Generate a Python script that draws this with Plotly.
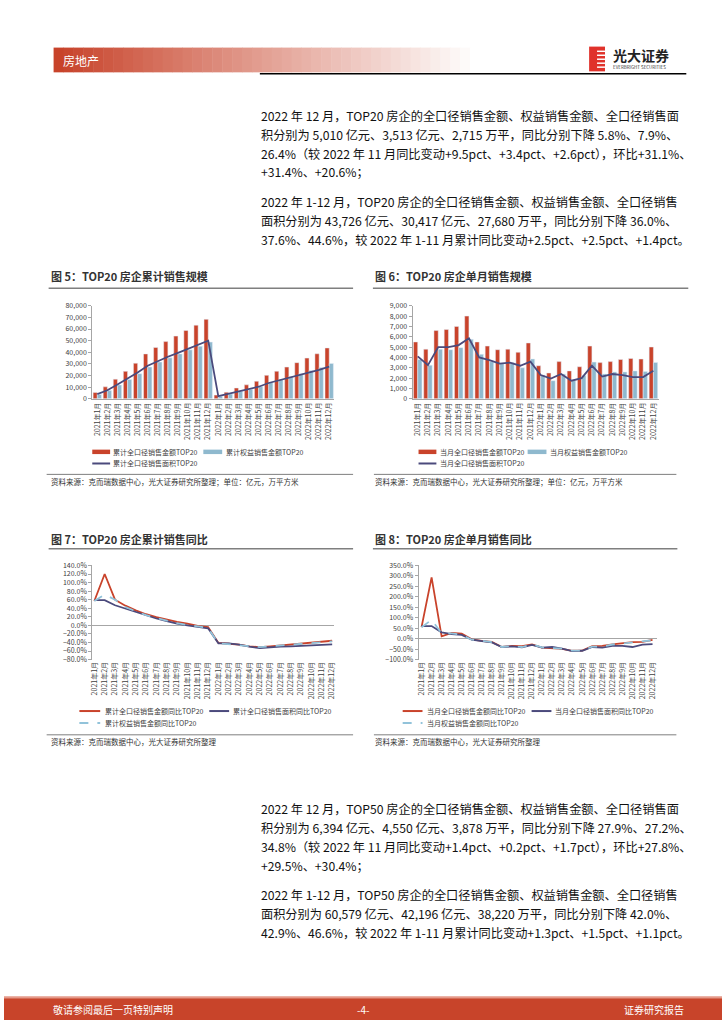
import plotly.graph_objects as go

# ---------------- data ----------------
months = ["2021年1月", "2021年2月", "2021年3月", "2021年4月", "2021年5月", "2021年6月",
          "2021年7月", "2021年8月", "2021年9月", "2021年10月", "2021年11月", "2021年12月",
          "2022年1月", "2022年2月", "2022年3月", "2022年4月", "2022年5月", "2022年6月",
          "2022年7月", "2022年8月", "2022年9月", "2022年10月", "2022年11月", "2022年12月"]

# Fig 5: cumulative (亿元 / 万平方米)
cum_amount = [5500, 10300, 16900, 23600, 30600, 38600, 44100, 49200, 53900, 58700, 63300, 68300,
              3200, 5700, 9300, 12000, 15100, 20200, 23700, 27300, 31100, 35000, 38716, 43726]
cum_equity = [3800, 7100, 11900, 16600, 21600, 27300, 31600, 35200, 38600, 42100, 45100, 48750,
              2300, 4050, 6450, 8250, 10500, 14050, 16450, 19050, 21650, 24350, 26904, 30417]
cum_area = [4100, 7350, 12350, 17350, 22550, 28400, 32400, 36150, 39550, 43050, 46250, 49960,
            2300, 4250, 6650, 8400, 10400, 13600, 15750, 18150, 20450, 22550, 24965, 27680]

# Fig 6: monthly
mon_amount = [5500, 4800, 6600, 6700, 7000, 8000, 5500, 5100, 4750, 4800, 4500, 5400,
              3200, 2500, 3600, 2700, 3100, 5100, 3500, 3600, 3800, 3900, 3850, 5010]
mon_equity = [3800, 3250, 4800, 4750, 4950, 5750, 4300, 3600, 3400, 3500, 3000, 3850,
              2300, 1750, 2400, 1800, 2250, 3550, 2400, 2600, 2600, 2700, 2650, 3513]
mon_area = [4100, 3250, 5000, 5000, 5200, 5850, 4000, 3750, 3400, 3500, 3200, 3600,
            2300, 1950, 2400, 1750, 2000, 3200, 2150, 2400, 2300, 2100, 2100, 2715]

# Fig 7: cumulative YoY (%)
cum_amount_yoy = [57, 120, 60, 46, 35, 26, 19, 13, 8, 4, -1, -4,
                  -41, -43, -45, -49, -51, -49, -47, -45, -43, -41, -38.5, -36.0]
cum_equity_yoy = [57, 72, 60, 43, 33, 24, 17, 11, 5, 1, -3, -6,
                  -42, -44, -46, -49, -51, -49, -47, -45, -43, -42, -40.1, -37.6]
cum_area_yoy = [59, 59, 47, 39, 32, 23, 16, 10, 4, 0, -4, -7,
                -42, -42, -45, -50, -53, -51, -50, -49, -48, -47, -46.0, -44.6]

# Fig 8: monthly YoY (%)
mon_amount_yoy = [55, 293, 11, 28, 24, -3, -11, -16, -40, -35, -36, -28,
                  -43, -47, -49, -58, -57, -36, -35, -27, -21, -17, -15.3, -5.8]
mon_equity_yoy = [55, 90, 25, 25, 18, -5, -10, -17, -40, -36, -40, -28,
                  -42, -45, -48, -57, -57, -38, -38, -28, -23, -17, -11.3, -7.9]
mon_area_yoy = [60, 60, 30, 22, 18, -5, -12, -18, -40, -37, -42, -30,
                -43, -40, -48, -60, -58, -40, -43, -35, -35, -40, -29.0, -26.4]

para_top = [
    ["2022 年 12 月，TOP20 房企的全口径销售金额、权益销售金额、全口径销售面",
     "积分别为 5,010 亿元、3,513 亿元、2,715 万平，同比分别下降 5.8%、7.9%、",
     "26.4%（较 2022 年 11 月同比变动+9.5pct、+3.4pct、+2.6pct），环比+31.1%、",
     "+31.4%、+20.6%；"],
    ["2022 年 1-12 月，TOP20 房企的全口径销售金额、权益销售金额、全口径销售",
     "面积分别为 43,726 亿元、30,417 亿元、27,680 万平，同比分别下降 36.0%、",
     "37.6%、44.6%，较 2022 年 1-11 月累计同比变动+2.5pct、+2.5pct、+1.4pct。"],
]
para_bottom = [
    ["2022 年 12 月，TOP50 房企的全口径销售金额、权益销售金额、全口径销售面",
     "积分别为 6,394 亿元、4,550 亿元、3,878 万平，同比分别下降 27.9%、27.2%、",
     "34.8%（较 2022 年 11 月同比变动+1.4pct、+0.2pct、+1.7pct），环比+27.8%、",
     "+29.5%、+30.4%；"],
    ["2022 年 1-12 月，TOP50 房企的全口径销售金额、权益销售金额、全口径销售",
     "面积分别为 60,579 亿元、42,196 亿元、38,220 万平，同比分别下降 42.0%、",
     "42.9%、46.6%，较 2022 年 1-11 月累计同比变动+1.3pct、+1.5pct、+1.1pct。"],
]

# ---------------- style ----------------
W, H = 724, 1024
RED = "#C9432B"
BLUE = "#8FB9CE"
DARK = "#4B4A7C"
LBLUE = "#92C3DA"
GRAY = "#8C8C8C"
TXT = "#404040"
FONT = "Noto Sans CJK SC"


def X(px):
    return px / W


def Y(py):
    return 1 - py / H


shapes = []
annotations = []


def text(x, y, s, size=8, color=TXT, anchor="left", bold=False, yanchor="middle"):
    if bold:
        s = "<b>" + s + "</b>"
    annotations.append(dict(x=X(x), y=Y(y), xref="paper", yref="paper", text=s, showarrow=False,
                            xanchor=anchor, yanchor=yanchor,
                            font=dict(size=size, color=color, family=FONT)))


def hline(x0, x1, y, color=GRAY, width=1, dash="solid"):
    shapes.append(dict(type="line", xref="paper", yref="paper", x0=X(x0), x1=X(x1), y0=Y(y), y1=Y(y),
                       line=dict(color=color, width=width, dash=dash)))


def rect(x0, x1, y0, y1, color):
    shapes.append(dict(type="rect", xref="paper", yref="paper", x0=X(x0), x1=X(x1), y0=Y(y1), y1=Y(y0),
                       fillcolor=color, line=dict(width=0), layer="above"))


fig = go.Figure()

# Fig 5 bars + line
fig.add_trace(go.Bar(x=months, y=cum_amount, marker_color=RED, xaxis="x", yaxis="y"))
fig.add_trace(go.Bar(x=months, y=cum_equity, marker_color=BLUE, xaxis="x", yaxis="y"))
fig.add_trace(go.Scatter(x=months, y=cum_area, mode="lines", line=dict(color=DARK, width=1.8),
                         xaxis="x", yaxis="y"))
# Fig 6
fig.add_trace(go.Bar(x=months, y=mon_amount, marker_color=RED, xaxis="x2", yaxis="y2"))
fig.add_trace(go.Bar(x=months, y=mon_equity, marker_color=BLUE, xaxis="x2", yaxis="y2"))
fig.add_trace(go.Scatter(x=months, y=mon_area, mode="lines", line=dict(color=DARK, width=1.8),
                         xaxis="x2", yaxis="y2"))
# Fig 7
fig.add_trace(go.Scatter(x=months, y=cum_amount_yoy, mode="lines", line=dict(color=RED, width=1.8),
                         xaxis="x3", yaxis="y3"))
fig.add_trace(go.Scatter(x=months, y=cum_area_yoy, mode="lines", line=dict(color=DARK, width=1.8),
                         xaxis="x3", yaxis="y3"))
fig.add_trace(go.Scatter(x=months, y=cum_equity_yoy, mode="lines",
                         line=dict(color=LBLUE, width=1.8, dash="dash"), xaxis="x3", yaxis="y3"))
# Fig 8
fig.add_trace(go.Scatter(x=months, y=mon_amount_yoy, mode="lines", line=dict(color=RED, width=1.8),
                         xaxis="x4", yaxis="y4"))
fig.add_trace(go.Scatter(x=months, y=mon_area_yoy, mode="lines", line=dict(color=DARK, width=1.8),
                         xaxis="x4", yaxis="y4"))
fig.add_trace(go.Scatter(x=months, y=mon_equity_yoy, mode="lines",
                         line=dict(color=LBLUE, width=1.8, dash="dash"), xaxis="x4", yaxis="y4"))

tickfont = dict(size=7, color=TXT, family=FONT)


def xax(x0, x1, rng, showline=True):
    return dict(domain=[X(x0), X(x1)], type="category", range=rng, tickangle=-90, tickfont=tickfont,
                showgrid=False, showline=showline, linecolor="#A6A6A6", linewidth=1,
                ticks="", zeroline=False, fixedrange=True)


def yax(y0, y1, rng, dtick, fmt=None, suffix=None, anchor="x", zeroline=False):
    d = dict(domain=[Y(y1), Y(y0)], range=rng, dtick=dtick, tick0=0, tickfont=tickfont, showgrid=False,
             showline=True, linecolor="#A6A6A6", linewidth=1, ticks="outside", ticklen=3,
             tickcolor="#A6A6A6", zeroline=zeroline, zerolinecolor="#A6A6A6", zerolinewidth=1,
             anchor=anchor, fixedrange=True)
    if fmt:
        d["tickformat"] = fmt
    if suffix:
        d["ticksuffix"] = suffix
    return d


fig.update_layout(
    width=W, height=H, margin=dict(l=0, r=0, t=0, b=0), autosize=False,
    paper_bgcolor="white", plot_bgcolor="white", showlegend=False,
    barmode="group", bargap=0.17, bargroupgap=0.0,
    font=dict(family=FONT),
    xaxis=xax(89, 333, [-0.5, 23.5]),
    yaxis=yax(302.7, 396.7, [0, 80000], 10000, fmt=",", anchor="x"),
    xaxis2=dict(xax(412, 660, [-0.5, 23.5]), anchor="y2"),
    yaxis2=yax(302.7, 396.7, [0, 9000], 1000, fmt=",", anchor="x2"),
    xaxis3=dict(xax(89, 333, [-0.2, 23.2], showline=False), anchor="y3"),
    yaxis3=yax(565, 660, [-80, 140], 20, fmt=".1f", suffix="%", anchor="x3", zeroline=True),
    xaxis4=dict(xax(418, 658, [-0.3, 23.4], showline=False), anchor="y4"),
    yaxis4=yax(565, 660, [-100, 350], 50, fmt=".1f", suffix="%", anchor="x4", zeroline=True),
)

# ---------------- header ----------------
n = 43
x_start, x_end = 50, 480
for i in range(n):
    t = i / (n - 1)
    r = int(200 + (255 - 200) * t)
    g = int(67 + (255 - 67) * t)
    b = int(42 + (255 - 42) * t)
    rect(x_start + (x_end - x_start) * i / n, x_start + (x_end - x_start) * (i + 1) / n + 0.5,
         42, 67, f"rgb({r},{g},{b})")
text(57, 55, "房地产", size=12, color="white")
hline(258, 688, 68.5, color="black", width=1.5)
# logo
rect(590, 606, 41, 66, "#E0322B")
for k, yy in enumerate([45, 49, 53, 57, 61]):
    rect(598, 606, yy, yy + 1.5, "white")
text(612, 49, "光大证券", size=14, color="#222222", bold=True)
text(612, 62, "EVERBRIGHT SECURITIES", size=4.5, color="#333333")

# ---------------- paragraphs ----------------
def paragraph(lines, y0):
    for j, s in enumerate(lines):
        text(257, y0 + 19 * j, s, size=12.2, color="#111111")


paragraph(para_top[0], 111)
paragraph(para_top[1], 198)
paragraph(para_bottom[0], 811)
paragraph(para_bottom[1], 898)

# ---------------- chart titles / sources ----------------
text(45, 273, "图 5：TOP20 房企累计销售规模", size=11, color="#333333", bold=True)
hline(45, 352, 285, color="#7F7F7F", width=1.5)
text(372, 273, "图 6：TOP20 房企单月销售规模", size=11, color="#333333", bold=True)
hline(372, 690, 285, color="#7F7F7F", width=1.5)

text(45, 538, "图 7：TOP20 房企累计销售同比", size=11, color="#333333", bold=True)
hline(45, 352, 548, color="#7F7F7F", width=1.5)
text(372, 538, "图 8：TOP20 房企单月销售同比", size=11, color="#333333", bold=True)
hline(372, 679, 548, color="#7F7F7F", width=1.5)

hline(43, 352, 473, color="#7F7F7F", width=1)
text(45, 480, "资料来源：克而瑞数据中心，光大证券研究所整理；单位：亿元，万平方米", size=7.5, color="#333333")
hline(373, 678, 473, color="#7F7F7F", width=1)
text(372, 480, "资料来源：克而瑞数据中心，光大证券研究所整理；单位：亿元，万平方米", size=7.5, color="#333333")

hline(43, 352, 736, color="#7F7F7F", width=1)
text(45, 743, "资料来源：克而瑞数据中心，光大证券研究所整理", size=7.5, color="#333333")
hline(373, 678, 736, color="#7F7F7F", width=1)
text(372, 743, "资料来源：克而瑞数据中心，光大证券研究所整理", size=7.5, color="#333333")

# ---------------- legends ----------------
LS = 7
# fig 5
rect(89, 107, 448, 452.5, RED)
text(108, 450, "累计全口径销售金额TOP20", size=LS)
rect(201, 220, 448, 452.5, BLUE)
text(222, 450, "累计权益销售金额TOP20", size=LS)
hline(89, 107, 462, color=DARK, width=2)
text(108, 462, "累计全口径销售面积TOP20", size=LS)
# fig 6
rect(418, 436, 448, 452.5, RED)
text(438, 450, "当月全口径销售金额TOP20", size=LS)
rect(528, 547, 448, 452.5, BLUE)
text(549, 450, "当月权益销售金额TOP20", size=LS)
hline(418, 436, 462, color=DARK, width=2)
text(438, 462, "当月全口径销售面积TOP20", size=LS)
# fig 7
hline(76, 97, 712, color=RED, width=2)
text(100, 712, "累计全口径销售金额同比TOP20", size=LS)
hline(207, 227, 712, color=DARK, width=2)
text(229, 712, "累计全口径销售面积同比TOP20", size=LS)
hline(76, 97, 724, color=LBLUE, width=2, dash="dash")
text(100, 724, "累计权益销售金额同比TOP20", size=LS)
# fig 8
hline(402, 422, 712, color=RED, width=2)
text(425, 712, "当月全口径销售金额同比TOP20", size=LS)
hline(532, 552, 712, color=DARK, width=2)
text(554, 712, "当月全口径销售面积同比TOP20", size=LS)
hline(402, 422, 724, color=LBLUE, width=2, dash="dash")
text(425, 724, "当月权益销售金额同比TOP20", size=LS)

# ---------------- footer ----------------
rect(0, 724, 1000, 1002, "#E59A8A")
rect(0, 724, 1002, 1024, "#C8442A")
text(47, 1013, "敬请参阅最后一页特别声明", size=10, color="white")
text(362, 1013, "-4-", size=10, color="white", anchor="center")
text(688, 1013, "证券研究报告", size=10, color="white", anchor="right")

fig.update_layout(shapes=shapes, annotations=annotations)
fig.write_html("out.html", config={"displayModeBar": False},
               post_script="document.body.style.margin='0';document.body.style.overflow='hidden';")
